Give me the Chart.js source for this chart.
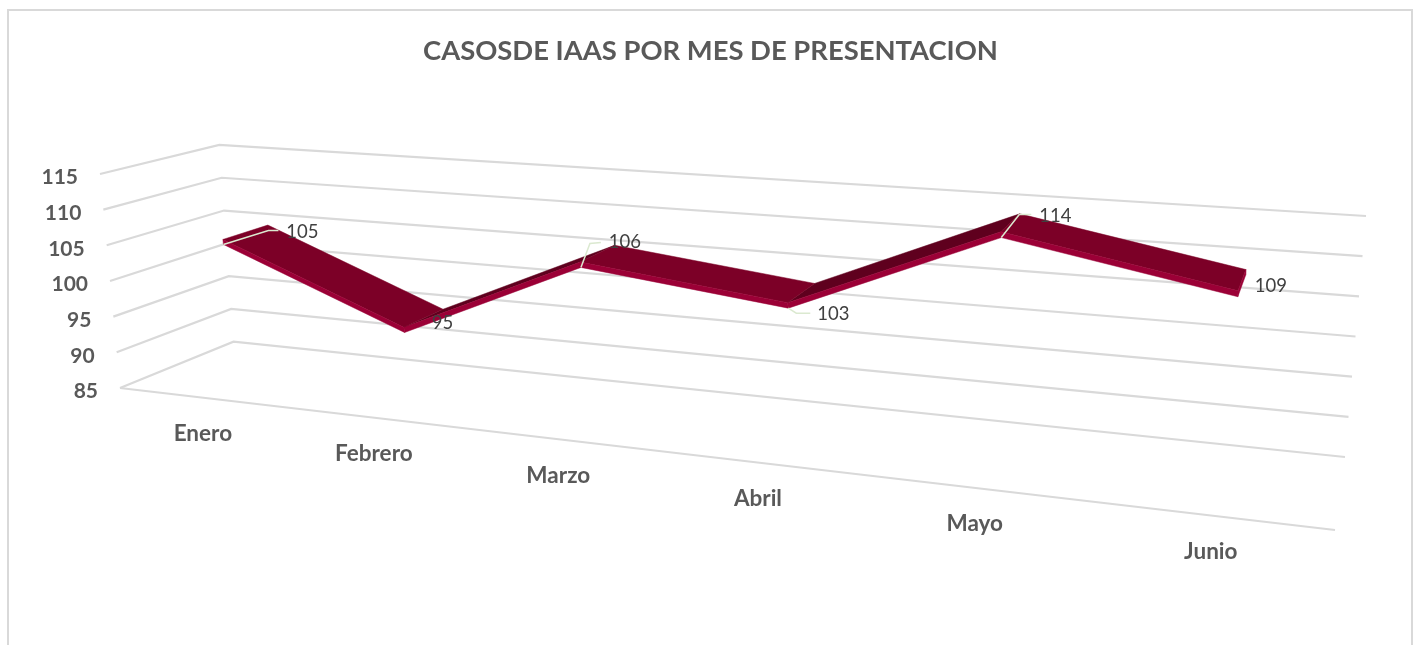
<!DOCTYPE html>
<html><head><meta charset="utf-8">
<script src="https://cdn.jsdelivr.net/npm/chart.js@4"></script>
<style>
html,body{margin:0;padding:0;background:#fff;overflow:hidden;width:1417px;height:645px}
#frame{position:absolute;left:7px;top:9px;width:1406px;height:640px;border:2px solid #d9d9d9;box-sizing:border-box}
canvas{position:absolute;left:0;top:0}
</style></head><body>
<div id="frame"></div>
<canvas id="c" width="1421" height="645" style="width:1421px;height:645px"></canvas>
<script>
const categories = ["Enero","Febrero","Marzo","Abril","Mayo","Junio"];
const values = [105,95,106,103,114,109];
const valueTicks = [85,90,95,100,105,110,115];
const titleText = "CASOSDE IAAS POR MES DE PRESENTACION";

const FONT = "Lato, Carlito, 'Open Sans', sans-serif";
const vMin = 85, vMax = 115;
// Perspective box corners: front-left, front-right, back-right, back-left
const floorQuad = [[120,388],[1335,530],[1345,457],[233.5,341.7]];
const topQuad   = [[100,174],[1363,268],[1366,216],[219.3,145]];
function homography(q){
  const [[x0,y0],[x1,y1],[x2,y2],[x3,y3]] = q;
  const dx1=x1-x2,dx2=x3-x2,sx=x0-x1+x2-x3,dy1=y1-y2,dy2=y3-y2,sy=y0-y1+y2-y3;
  const den=dx1*dy2-dx2*dy1, g=(sx*dy2-dx2*sy)/den, h=(dx1*sy-sx*dy1)/den;
  const a=x1-x0+g*x1,b=x3-x0+h*x3,d=y1-y0+g*y1,e=y3-y0+h*y3;
  return (u,w)=>{const k=g*u+h*w+1;return [(a*u+b*w+x0)/k,(d*u+e*w+y0)/k];};
}
const H0=homography(floorQuad), H1=homography(topQuad);
function project(u,w,v){
  const p=H0(u,w), q=H1(u,w), t=(v-vMin)/(vMax-vMin);
  return {x:p[0]+(q[0]-p[0])*t, y:p[1]+(q[1]-p[1])*t};
}
const uCat=i=>(i+0.5)/categories.length;
const uOf=i=>{const u=uCat(i);return u+(0.085+0.1*(u-0.5))*u*(1-u);};   // ribbon sits on a slightly weaker perspective
const d0=0.3, d1=0.7, thick=0.7, bias=0.2;

const datasets=[]; let ord=1000;
function addLine(pts,color,width){datasets.push({data:pts,borderColor:color,borderWidth:width,pointRadius:0,fill:false,tension:0,showLine:true,order:ord--});}
function addPoly(pts,color){datasets.push({data:[...pts,pts[0]],borderColor:color,backgroundColor:color,borderWidth:0.5,pointRadius:0,fill:'shape',tension:0,showLine:true,order:ord--});}

const GRID="#d9d9d9";
valueTicks.forEach(v=>addLine([project(0,0,v),project(0,1,v),project(1,1,v)],GRID,2.2));
addLine([project(0,0,vMin),project(1,0,vMin)],GRID,2.2);

// ribbon segments: rising ones first so falling faces sit on top
const segOrder=[...values.keys()].slice(0,-1).sort((a,b)=>(values[b+1]-values[b]>0?1:0)-(values[a+1]-values[a]>0?1:0));
const surf=v=>v+bias;
segOrder.forEach(i=>{
  const a=surf(values[i]), b=surf(values[i+1]), ua=uOf(i), ub=uOf(i+1);
  const rising=b>a;
  addPoly([project(ua,d0,a),project(ua,d1,a),project(ub,d1,b),project(ub,d0,b)],rising?"#5f001e":"#7c0027");
  addPoly([project(ua,d0,a),project(ub,d0,b),project(ub,d0,b-thick),project(ua,d0,a-thick)],"#9b0036");
});
// end cap of the ribbon
const L=values.length-1, tL=surf(values[L]);
addPoly([project(uOf(L),d0,tL),project(uOf(L),d1,tL),project(uOf(L),d1,tL-thick),project(uOf(L),d0,tL-thick)],"#9b0036");

// data-label callouts, relative to each point
const labelOffsets=[[79,-12],[38,-9],[44,-25],[45,6],[54,-22],[33,-11]];
const leaders=[[[0,0],[45,-14],[55,-14]],null,[[0,0],[9,-24],[20,-25]],[[0,0],[8,5],[22,5]],[[0,0],[18,-23],[30,-23]],null];
const anchor=i=>project(uOf(i),d0,surf(values[i])-thick);
leaders.forEach((l,i)=>{ if(!l) return; const p=anchor(i);
  addLine(l.map(o=>({x:p.x+o[0],y:p.y+o[1]})),"#dbe9d0",1.5);});

const labelsPlugin={id:'labels3d',afterDatasetsDraw(chart){
  const {ctx,scales:{x,y}}=chart; ctx.save(); ctx.textBaseline='middle';
  ctx.font="bold 21px "+FONT; ctx.fillStyle="#595959"; ctx.textAlign='right';
  valueTicks.forEach(v=>{const p=project(0,0,v);ctx.fillText(String(v),x.getPixelForValue(p.x-22),y.getPixelForValue(p.y+3.5));});
  ctx.textAlign='center'; ctx.font="bold 22.5px "+FONT;
  categories.forEach((c,i)=>{const p=project(uCat(i),0,vMin);ctx.fillText(c,x.getPixelForValue(p.x+2),y.getPixelForValue(p.y+36.5));});
  ctx.font="18.5px "+FONT; ctx.fillStyle="#404040";
  values.forEach((v,i)=>{const p=anchor(i),o=labelOffsets[i];ctx.fillText(String(v),x.getPixelForValue(p.x+o[0]),y.getPixelForValue(p.y+o[1]));});
  ctx.restore();
}};

new Chart(document.getElementById('c'),{
  type:'scatter',
  data:{datasets},
  options:{
    responsive:false,animation:false,
    layout:{padding:0},
    plugins:{
      legend:{display:false},tooltip:{enabled:false},
      title:{display:true,text:titleText,color:"#595959",font:{family:FONT,size:27.4,weight:'bold',lineHeight:1.2},padding:{top:35,bottom:2.1}}
    },
    scales:{
      x:{type:'linear',display:false,min:0,max:1421},
      y:{type:'linear',display:false,min:70,max:645,reverse:true}
    }
  },
  plugins:[labelsPlugin]
});
</script>
</body></html>
